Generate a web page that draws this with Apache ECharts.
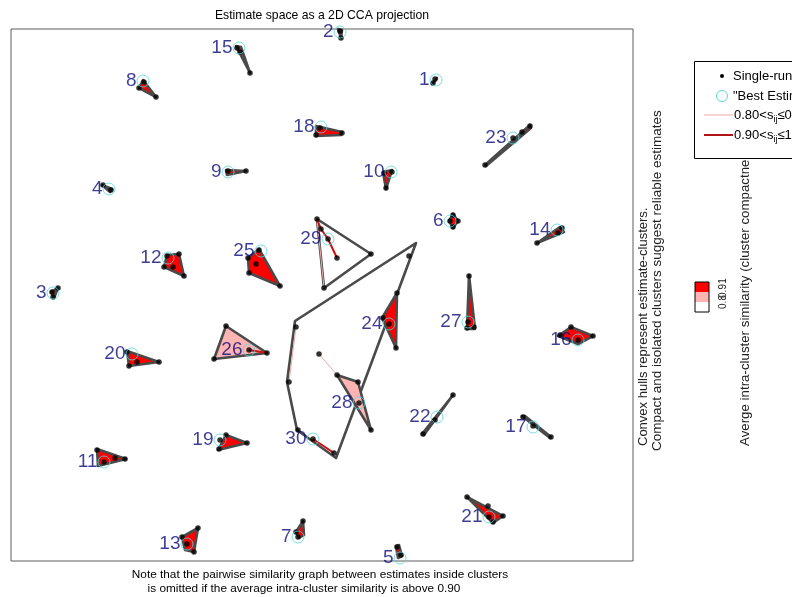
<!DOCTYPE html>
<html>
<head>
<meta charset="utf-8">
<script src="https://cdn.jsdelivr.net/npm/echarts@6/dist/echarts.min.js"></script>
<style>
  html, body { margin: 0; padding: 0; background: #fff; }
  #main { width: 792px; height: 597px; }
</style>
</head>
<body>
<div id="main"></div>
<script>
// cluster numbers and their "best estimate" (centrotype) positions in the 2D CCA space
const clusterIds = [1,2,3,4,5,6,7,8,9,10,11,12,13,14,15,16,17,18,19,20,21,22,23,24,25,26,27,28,29,30];
const bestX = [436,340,53,109,400,450,298,143,228,391,104,168,187,557,239,578,533,321,220,132,489,437,513,389,261,249,468,359,328,313];
const bestY = [80,32,293,189,558,221,537,81,172,172,462,258,544,230,48,340,427,127,440,354,517,417,138,324,251,350,322,403,239,439];
// compactness class: 2 -> 0.9..1, 1 -> 0.8..0.9, 0 -> below 0.8
const hullClass = [2,2,2,2,2,2,2,2,2,2,2,2,2,2,2,2,2,2,2,2,2,2,2,2,2,1,2,1,0,0];

// convex hull vertices per cluster
const hulls = [
  [[432,84],[437,78],[435,81]],
  [[338,29],[342,30],[341,38]],
  [[51,292],[58,288],[54,298]],
  [[102,185],[112,189],[110,192]],
  [[396,546],[399,545],[402,556],[398,558]],
  [[453,214],[458,221],[453,228],[449,221]],
  [[303,521],[296,532],[299,538],[304,535]],
  [[143,80],[156,97],[139,88]],
  [[226,170],[246,171],[227,175]],
  [[383,172],[392,170],[386,189]],
  [[97,449],[126,459],[98,466]],
  [[164,267],[167,255],[179,254],[184,276]],
  [[182,537],[198,528],[194,552],[185,550]],
  [[537,243],[560,227],[564,232]],
  [[236,46],[241,47],[250,73]],
  [[558,336],[571,327],[593,336],[578,344]],
  [[522,416],[525,416],[551,437],[550,438]],
  [[316,126],[342,132],[341,135],[316,136]],
  [[218,450],[226,435],[247,443]],
  [[127,351],[159,362],[129,366]],
  [[467,497],[503,516],[493,523]],
  [[422,434],[453,395],[424,435]],
  [[485,165],[530,125],[531,128],[486,166]],
  [[397,293],[382,318],[396,348]],
  [[248,258],[259,249],[280,286],[249,273]],
  [[226,326],[267,353],[214,359]],
  [[469,275],[475,329],[467,329]],
  [[337,375],[358,382],[371,430]],
  [[317,219],[371,254],[324,288]],
  [[416,243],[295,321],[287,382],[297,430],[336,458]]
];

// single-run estimates per cluster
const members = [
  [[433,83],[435,79]],
  [[340,31],[341,38]],
  [[58,288],[53,297],[52,292]],
  [[103,185],[111,190]],
  [[397,547],[401,555]],
  [[453,215],[458,221],[453,227],[450,221]],
  [[303,521],[296,532],[298,537]],
  [[144,82],[139,88],[156,97]],
  [[228,171],[246,171]],
  [[392,172],[384,173],[386,188]],
  [[97,450],[115,458],[125,459],[104,462]],
  [[167,256],[179,254],[184,276],[164,267],[173,267]],
  [[182,537],[198,528],[194,552],[187,544]],
  [[537,243],[562,228],[558,233]],
  [[237,48],[240,52],[250,73]],
  [[571,327],[593,336],[578,340],[560,335]],
  [[523,417],[533,426],[551,437]],
  [[320,128],[316,135],[342,133]],
  [[226,435],[220,440],[247,443],[219,449]],
  [[127,352],[137,362],[159,362],[129,366]],
  [[467,497],[488,506],[503,516],[493,522],[489,517]],
  [[423,434],[435,420],[453,395]],
  [[485,165],[513,138],[522,132],[530,126]],
  [[397,293],[389,324],[396,348],[383,318]],
  [[259,250],[256,264],[280,286],[249,273],[248,258]],
  [[226,326],[249,350],[267,353],[214,359]],
  [[469,276],[474,327],[467,328],[468,322]],
  [[337,375],[358,382],[371,430],[359,403]],
  [[317,219],[321,229],[328,239],[337,258],[371,254],[324,288]],
  [[409,256],[296,327],[289,382],[319,354],[298,430],[313,439],[334,453]]
];

// pairwise similarity edges drawn inside the less compact clusters
const edgesMid = [
  [[296,327],[289,382]],
  [[319,354],[337,375]],
  [[317,219],[324,288]]
];
const edgesHigh = [
  [[249,350],[267,353]],
  [[317,219],[321,229]],
  [[321,229],[328,239]],
  [[328,239],[337,258]],
  [[313,439],[334,453]]
];

const colorbarTicks = ['1', '0.9', '0.8'];
const legendLabels = ['Single-run estimate', '"Best Estimate"'];

const FONT = 'Liberation Sans, Arial, sans-serif';
const fillColors = ['#ffffff', '#ffb4b4', '#ff0000'];

// white hulls first so the coloured ones lie on top
const hullOrder = clusterIds.map((c, i) => i).sort((a, b) => hullClass[a] - hullClass[b]);

const pointData = [];
members.forEach(m => m.forEach(p => pointData.push(p)));

var chartDom = document.getElementById('main');
var myChart = echarts.init(chartDom, null, { renderer: 'canvas' });

var option = {
  animation: false,
  grid: {
    left: 11, top: 29, width: 622, height: 532,
    show: true, borderColor: '#5c5c5c', borderWidth: 1, backgroundColor: '#fff'
  },
  xAxis: {
    type: 'value', min: 11, max: 633,
    axisLine: { show: false }, axisTick: { show: false },
    axisLabel: { show: false }, splitLine: { show: false }
  },
  yAxis: {
    type: 'value', min: 29, max: 561, inverse: true,
    axisLine: { show: false }, axisTick: { show: false },
    axisLabel: { show: false }, splitLine: { show: false }
  },
  series: [
    {
      type: 'custom',
      z: 2,
      data: hullOrder.map(i => [i]),
      renderItem: function (params, api) {
        var k = api.value(0);
        var pts = hulls[k].map(p => api.coord(p));
        return {
          type: 'polygon',
          shape: { points: pts },
          style: {
            fill: fillColors[hullClass[k]],
            stroke: '#4a4a4a',
            lineWidth: 2.6,
            lineJoin: 'round'
          }
        };
      }
    },
    {
      type: 'lines',
      coordinateSystem: 'cartesian2d',
      z: 3,
      data: edgesMid.map(e => ({ coords: e })),
      lineStyle: { color: '#eeaaaa', width: 1, opacity: 1 }
    },
    {
      type: 'lines',
      coordinateSystem: 'cartesian2d',
      z: 3,
      data: edgesHigh.map(e => ({ coords: e })),
      lineStyle: { color: '#cc1010', width: 2, opacity: 1 }
    },
    {
      type: 'scatter',
      z: 4,
      data: pointData,
      symbolSize: 5.5,
      itemStyle: { color: '#000' }
    },
    {
      type: 'scatter',
      z: 5,
      data: clusterIds.map((c, i) => [bestX[i], bestY[i], c]),
      symbol: 'circle',
      symbolSize: 12,
      itemStyle: { color: 'rgba(0,0,0,0)', borderColor: '#55d6dc', borderWidth: 1 },
      label: {
        show: true,
        position: 'left',
        distance: 0,
        formatter: p => String(p.value[2]),
        color: '#0c0c78',
        fontSize: 19,
        fontFamily: FONT
      }
    }
  ],
  graphic: [
    { type: 'text', x: 322, y: 16, style: { text: 'Estimate space as a 2D CCA projection', font: '12.2px ' + FONT, fill: '#000', align: 'center', verticalAlign: 'middle' } },
    { type: 'text', x: 320, y: 575, style: { text: 'Note that the pairwise similarity graph between estimates inside clusters', font: '11.8px ' + FONT, fill: '#000', align: 'center', verticalAlign: 'middle' } },
    { type: 'text', x: 304, y: 589, style: { text: 'is omitted if the average intra-cluster similarity is above 0.90', font: '11.8px ' + FONT, fill: '#000', align: 'center', verticalAlign: 'middle' } },
    { type: 'text', x: 643, y: 446, rotation: Math.PI / 2, style: { text: 'Convex hulls represent estimate-clusters.', font: '13px ' + FONT, fill: '#222', align: 'left', verticalAlign: 'middle' } },
    { type: 'text', x: 657, y: 451, rotation: Math.PI / 2, style: { text: 'Compact and isolated clusters suggest reliable estimates', font: '13.5px ' + FONT, fill: '#222', align: 'left', verticalAlign: 'middle' } },
    { type: 'text', x: 745, y: 446, rotation: Math.PI / 2, style: { text: 'Averge intra-cluster similarity (cluster compactness)', font: '13.3px ' + FONT, fill: '#222', align: 'left', verticalAlign: 'middle' } },
    // colorbar
    { type: 'rect', shape: { x: 695, y: 282, width: 14, height: 10 }, style: { fill: '#ff0000' } },
    { type: 'rect', shape: { x: 695, y: 292, width: 14, height: 10 }, style: { fill: '#ffb4b4' } },
    { type: 'rect', shape: { x: 695, y: 302, width: 14, height: 10 }, style: { fill: '#ffffff' } },
    { type: 'rect', shape: { x: 695, y: 282, width: 14, height: 30 }, style: { fill: 'none', stroke: '#000', lineWidth: 1 } },
    { type: 'text', x: 723, y: 281, rotation: Math.PI / 2, style: { text: colorbarTicks[0], font: '10px ' + FONT, fill: '#222', align: 'center', verticalAlign: 'middle' } },
    { type: 'text', x: 723, y: 291, rotation: Math.PI / 2, style: { text: colorbarTicks[1], font: '10px ' + FONT, fill: '#222', align: 'center', verticalAlign: 'middle' } },
    { type: 'text', x: 723, y: 302, rotation: Math.PI / 2, style: { text: colorbarTicks[2], font: '10px ' + FONT, fill: '#222', align: 'center', verticalAlign: 'middle' } },
    // legend box
    { type: 'rect', z: 10, shape: { x: 694.5, y: 61.5, width: 110, height: 97 }, style: { fill: '#fff', stroke: '#000', lineWidth: 1 } },
    { type: 'circle', z: 11, shape: { cx: 722, cy: 76, r: 2 }, style: { fill: '#000' } },
    { type: 'text', z: 11, x: 733, y: 76, style: { text: legendLabels[0], font: '13px ' + FONT, fill: '#000', verticalAlign: 'middle' } },
    { type: 'circle', z: 11, shape: { cx: 722, cy: 96, r: 5.5 }, style: { fill: 'none', stroke: '#55d6dc', lineWidth: 1 } },
    { type: 'text', z: 11, x: 733, y: 96, style: { text: legendLabels[1], font: '13px ' + FONT, fill: '#000', verticalAlign: 'middle' } },
    { type: 'line', z: 11, shape: { x1: 704, y1: 115, x2: 733, y2: 115 }, style: { stroke: '#eeaaaa', lineWidth: 1 } },
    { type: 'text', z: 11, x: 734, y: 115, style: { text: '0.80<s{s|ij}≤0.90', font: '13px ' + FONT, fill: '#000', verticalAlign: 'middle', rich: { s: { fontSize: 9, fontFamily: FONT, padding: [9, 0, 0, 0] } } } },
    { type: 'line', z: 11, shape: { x1: 704, y1: 135, x2: 733, y2: 135 }, style: { stroke: '#b01515', lineWidth: 2 } },
    { type: 'text', z: 11, x: 734, y: 135, style: { text: '0.90<s{s|ij}≤1.00', font: '13px ' + FONT, fill: '#000', verticalAlign: 'middle', rich: { s: { fontSize: 9, fontFamily: FONT, padding: [9, 0, 0, 0] } } } }
  ]
};

myChart.setOption(option);
</script>
</body>
</html>
